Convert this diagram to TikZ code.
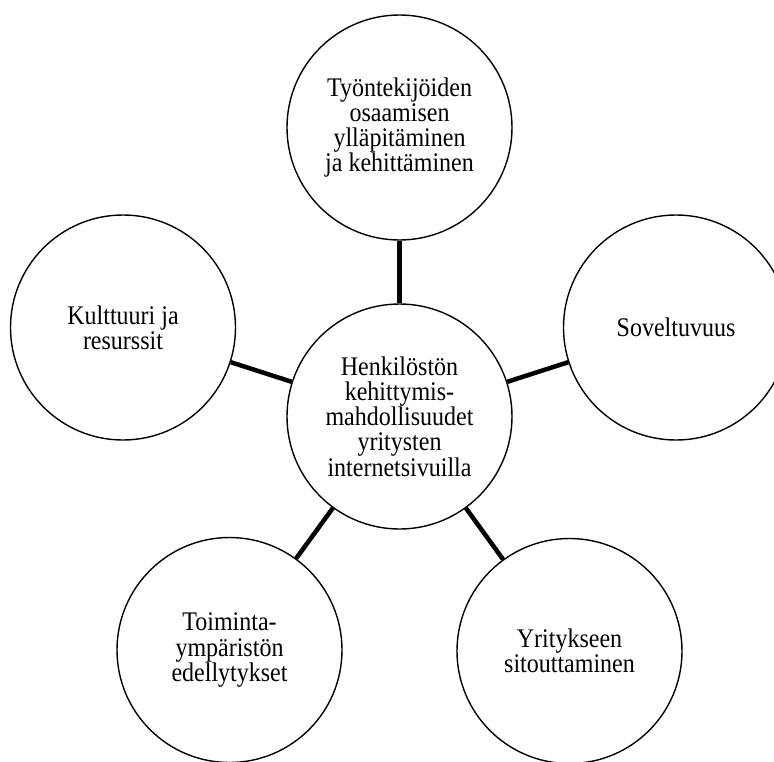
\documentclass[tikz,border=0pt]{standalone}
\usepackage{graphicx}
\usepackage{fontspec}
\setmainfont{Liberation Serif}
\newcommand\vtxt[1]{\scalebox{1}[1.12]{\vbox{\fontsize{24}{22.5}\selectfont\halign{\hfil##\hfil\cr#1\crcr}}}}
\begin{document}
\begin{tikzpicture}[x=1pt,y=-1pt,
  bubble/.style={circle, draw=black, line width=1.4pt, fill=white, minimum size=225pt, inner sep=0pt},
  link/.style={draw=black, line width=4.5pt}]
\useasboundingbox (0,0) rectangle (774,761);
\clip (0,0) rectangle (774,761);
\node[bubble] (c) at (399.5,416.5) {\vtxt{Henkilöstön\cr kehittymis-\cr mahdollisuudet\cr yritysten\cr internetsivuilla}};
\node[bubble] (t) at (399.5,127.5) {\vtxt{Työntekijöiden\cr osaamisen\cr ylläpitäminen\cr ja kehittäminen}};
\node[bubble] (l) at (123,327.5) {\vtxt{Kulttuuri ja\cr resurssit}};
\node[bubble] (r) at (676,327.5) {\vtxt{Soveltuvuus}};
\node[bubble] (bl) at (229.5,650) {\vtxt{Toiminta-\cr ympäristön\cr edellytykset}};
\node[bubble] (br) at (569.5,651) {\vtxt{Yritykseen\cr sitouttaminen}};
\foreach \n in {t,l,r,bl,br}{\draw[link] (c) -- (\n);}
\end{tikzpicture}
\end{document}
